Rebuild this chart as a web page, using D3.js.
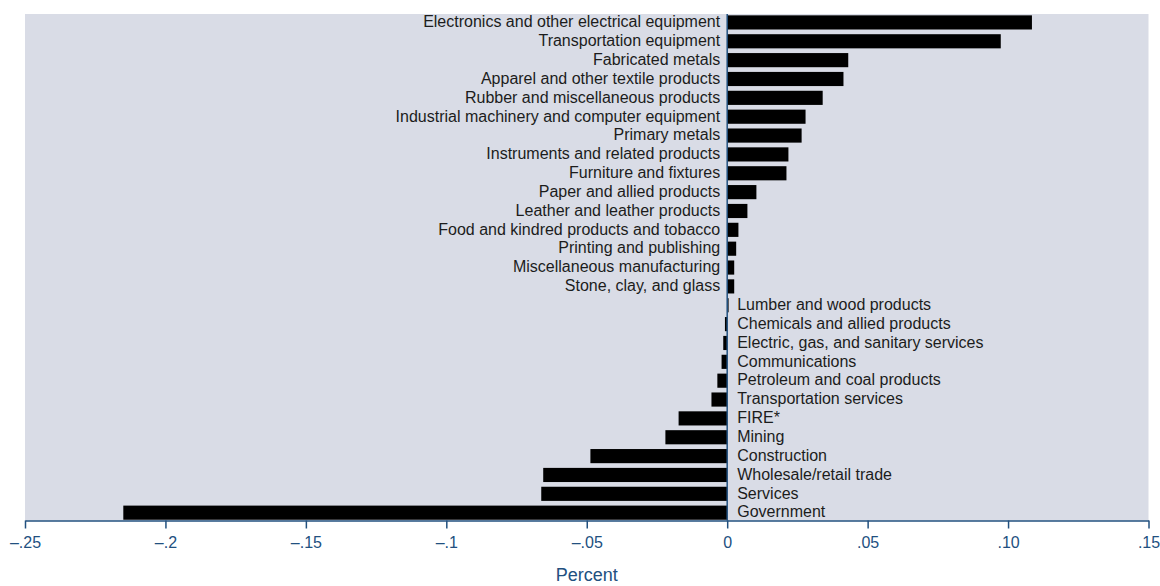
<!DOCTYPE html>
<html>
<head>
<meta charset="utf-8">
<script src="https://cdn.jsdelivr.net/npm/d3@7"></script>
<style>
  html, body { margin: 0; padding: 0; background: #ffffff; }
  svg { display: block; font-family: "Liberation Sans", Arial, Helvetica, sans-serif; }
</style>
</head>
<body>
<svg id="chart" width="1160" height="586"></svg>
<script>
// Industries, ordered from largest gain to largest loss
const categories = [
  "Electronics and other electrical equipment",
  "Transportation equipment",
  "Fabricated metals",
  "Apparel and other textile products",
  "Rubber and miscellaneous products",
  "Industrial machinery and computer equipment",
  "Primary metals",
  "Instruments and related products",
  "Furniture and fixtures",
  "Paper and allied products",
  "Leather and leather products",
  "Food and kindred products and tobacco",
  "Printing and publishing",
  "Miscellaneous manufacturing",
  "Stone, clay, and glass",
  "Lumber and wood products",
  "Chemicals and allied products",
  "Electric, gas, and sanitary services",
  "Communications",
  "Petroleum and coal products",
  "Transportation services",
  "FIRE*",
  "Mining",
  "Construction",
  "Wholesale/retail trade",
  "Services",
  "Government"
];

// Contribution, in percent
const values = [
  0.1085, 0.0974, 0.0431, 0.0414, 0.0340, 0.0279, 0.0265, 0.0218, 0.0211,
  0.0104, 0.0072, 0.0040, 0.0032, 0.0025, 0.0025, 0.0005, -0.0008, -0.0014,
  -0.0020, -0.0035, -0.0056, -0.0173, -0.0220, -0.0487, -0.0655, -0.0662,
  -0.2150
];

const tickValues = [-0.25, -0.2, -0.15, -0.1, -0.05, 0, 0.05, 0.10, 0.15];
const tickLabels = ["\u2013.25", "\u2013.2", "\u2013.15", "\u2013.1", "\u2013.05", "0", ".05", ".10", ".15"];
const axisTitle = "Percent";

const data = categories.map((c, i) => ({ name: c, value: values[i] }));

const svg = d3.select("#chart");
const plotLeft = 25, plotRight = 1148.5, plotTop = 14, plotBottom = 520.5;
const axisBlue = "#22507f";

const x = d3.scaleLinear().domain([-0.25, 0.15]).range([plotLeft, plotRight]);
const y = d3.scaleBand().domain(categories).range([plotTop + 0.6, plotBottom]).paddingInner(0.25).paddingOuter(0.04);

// plot background
svg.append("rect")
  .attr("x", plotLeft).attr("y", plotTop)
  .attr("width", plotRight - plotLeft).attr("height", plotBottom - plotTop)
  .attr("fill", "#d9dce6");

// bars
svg.append("g").selectAll("rect")
  .data(data)
  .join("rect")
  .attr("x", d => x(Math.min(0, d.value)))
  .attr("y", d => y(d.name))
  .attr("width", d => Math.max(1, Math.abs(x(d.value) - x(0))))
  .attr("height", y.bandwidth())
  .attr("fill", "#000000");

// zero line
svg.append("line")
  .attr("x1", x(0)).attr("x2", x(0))
  .attr("y1", plotTop).attr("y2", plotBottom)
  .attr("stroke", axisBlue).attr("stroke-width", 1.5);

// category labels: gains to the left of zero, losses to the right
svg.append("g").selectAll("text")
  .data(data)
  .join("text")
  .attr("x", d => d.value > 0.001 ? x(0) - 7 : x(0) + 10)
  .attr("y", d => y(d.name) + y.bandwidth() / 2)
  .attr("dy", "0.3em")
  .attr("text-anchor", d => d.value > 0.001 ? "end" : "start")
  .attr("font-size", 16)
  .attr("fill", "#1c1c1c")
  .text(d => d.name);

// x axis
const xAxis = d3.axisBottom(x)
  .tickValues(tickValues)
  .tickFormat((d, i) => tickLabels[i])
  .tickSize(8)
  .tickSizeOuter(0);

const gx = svg.append("g")
  .attr("transform", `translate(0,${plotBottom})`)
  .call(xAxis);
gx.select(".domain").attr("stroke", axisBlue).attr("stroke-width", 1.5);
gx.selectAll(".tick line").attr("stroke", axisBlue).attr("stroke-width", 1.5);
gx.selectAll(".tick text")
  .attr("fill", axisBlue)
  .attr("font-size", 16)
  .attr("font-family", "Liberation Sans, Arial, sans-serif")
  .attr("y", 16);

// axis title
svg.append("text")
  .attr("x", (plotLeft + plotRight) / 2)
  .attr("y", 581)
  .attr("text-anchor", "middle")
  .attr("font-size", 18)
  .attr("fill", axisBlue)
  .text(axisTitle);
</script>
</body>
</html>
